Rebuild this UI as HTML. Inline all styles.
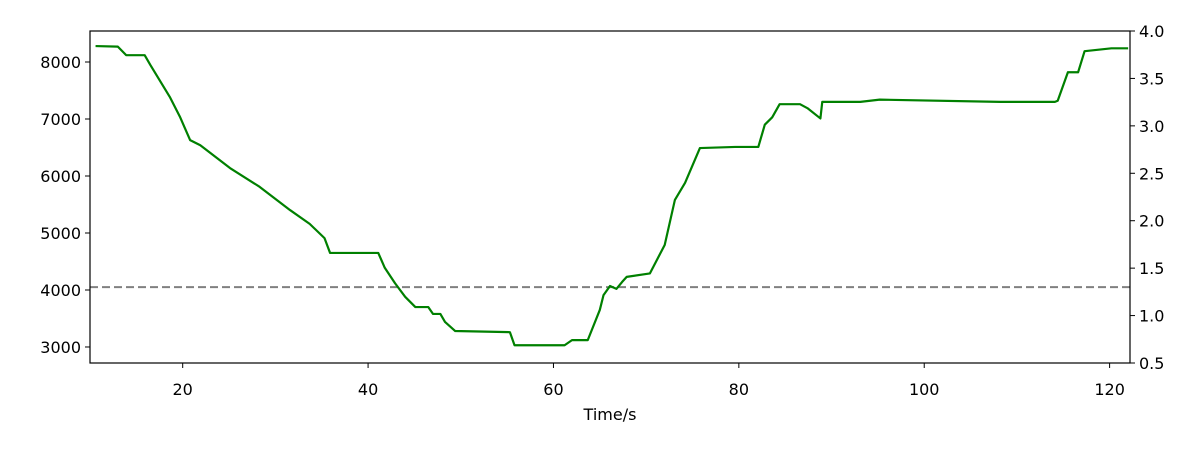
<!DOCTYPE html>
<html><head><meta charset="utf-8"><style>
body{margin:0;background:#fff}
svg text{font-family:"DejaVu Sans","Liberation Sans",sans-serif;font-size:16px;fill:#000}
</style></head><body>
<svg id="chart" width="1200" height="450" xmlns="http://www.w3.org/2000/svg"></svg>
<script>
const times=[10.6,13,13.9,15.9,16.5,18.6,19.7,20.8,21.9,25.1,28.3,31.6,33.7,35.3,35.9,41.1,41.8,42.9,44,45.1,46.5,47,47.8,48.3,49.4,55.3,55.8,61.2,62,63.7,65,65.4,66.1,66.8,67.4,67.9,70.4,72,73.1,74.2,75.8,79.6,80.7,82.1,82.8,83.6,84.4,86.6,87.4,88.8,89,93.1,95.2,108.2,114.1,114.4,115.5,116.6,117.3,120.2,122];
const values=[8280,8270,8120,8120,7950,7390,7040,6630,6540,6140,5810,5400,5160,4910,4650,4650,4390,4120,3880,3700,3700,3580,3580,3440,3280,3260,3030,3030,3120,3120,3650,3910,4070,4020,4140,4230,4290,4790,5580,5880,6490,6510,6510,6510,6900,7030,7260,7260,7190,7010,7300,7300,7340,7300,7300,7320,7820,7820,8190,8240,8240];
const xTicks=[20,40,60,80,100,120];
const yTicks=[3000,4000,5000,6000,7000,8000];
const y2Ticks=[0.5,1.0,1.5,2.0,2.5,3.0,3.5,4.0];
const threshold=4050;
const L=90,R=1130,T=31,B=363;
const xmin=10,xmax=122.2,ymin=2719,ymax=8544,y2min=0.5,y2max=4.0;
const X=t=>L+(t-xmin)/(xmax-xmin)*(R-L);
const Y=v=>B-(v-ymin)/(ymax-ymin)*(B-T);
const Y2=v=>B-(v-y2min)/(y2max-y2min)*(B-T);
const svg=document.getElementById('chart');
const NS='http://www.w3.org/2000/svg';
function mk(tag,attrs,parent){const e=document.createElementNS(NS,tag);for(const k in attrs)e.setAttribute(k,attrs[k]);(parent||svg).appendChild(e);return e;}
const th=mk('line',{x1:L,x2:R,y1:Y(threshold),y2:Y(threshold),stroke:'#808080','stroke-width':2,'stroke-dasharray':'8,4'});


const pl=mk('polyline',{points:times.map((t,i)=>X(t)+','+Y(values[i])).join(' '),fill:'none',stroke:'#008000','stroke-width':2.2,'stroke-linejoin':'round'});


const fr=mk('rect',{x:L,y:T,width:R-L,height:B-T,fill:'none',stroke:'#000','stroke-width':1.2});


xTicks.forEach(v=>{const x=X(v);mk('line',{x1:x,x2:x,y1:B,y2:B+5,stroke:'#000'});
const t=mk('text',{x:x,y:B+32,'text-anchor':'middle'});t.textContent=v;

});
yTicks.forEach(v=>{const y=Y(v);mk('line',{x1:L-5,x2:L,y1:y,y2:y,stroke:'#000'});
const t=mk('text',{x:L-9,y:y+6,'text-anchor':'end'});t.textContent=v;

});
y2Ticks.forEach(v=>{const y=Y2(v);mk('line',{x1:R,x2:R+5,y1:y,y2:y,stroke:'#000'});
const t=mk('text',{x:R+9,y:y+6,'text-anchor':'start'});t.textContent=v.toFixed(1);

});
const xl=mk('text',{x:(L+R)/2,y:420,'text-anchor':'middle'});xl.textContent='Time/s';


</script>
</body></html>
